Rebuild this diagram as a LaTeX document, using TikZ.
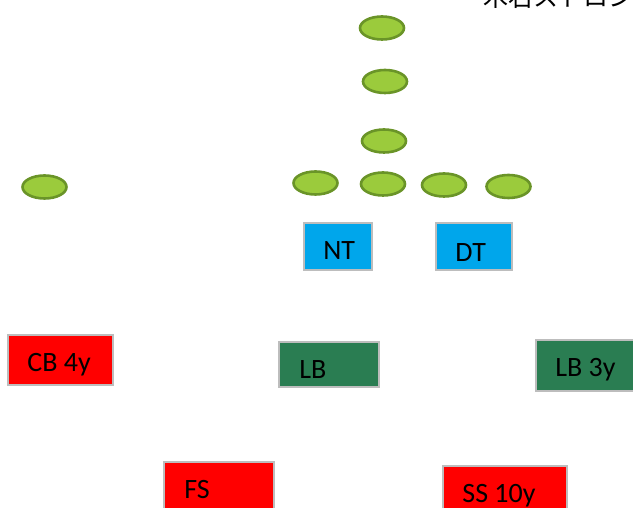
\documentclass[tikz,border=0pt]{standalone}
\usepackage{fontspec}
\setmainfont{Carlito}
\newfontfamily\cjk{Noto Sans CJK JP}
\usepackage{tikz}
\usetikzlibrary{positioning, calc, shapes.geometric}
\definecolor{olfill}{HTML}{9BCB3C}
\definecolor{oldraw}{HTML}{6A9428}
\definecolor{dlblue}{HTML}{00A6EB}
\definecolor{lbgreen}{HTML}{2A7D52}
\definecolor{dbred}{HTML}{FF0000}
\definecolor{edgegray}{HTML}{BDBDBD}
\tikzset{
  player/.style={
    ellipse,
    draw=oldraw,
    fill=olfill,
    line width=2.6pt,
    minimum width=44pt,
    minimum height=23pt,
    inner sep=0pt
  },
  posbox/.style={
    rectangle,
    draw=edgegray,
    line width=1.6pt,
    inner sep=0pt
  },
  postext/.style={
    font=\fontsize{28}{30}\selectfont,
    inner sep=0pt,
    anchor=base west
  }
}

\begin{document}
\begin{tikzpicture}[x=1pt, y=-1pt]
  \useasboundingbox (0,0) rectangle (633,508);
  \clip (0,0) rectangle (633,508);
  % offense
  \node[player] (c1) at (382,28) {};
  \node[player] (c2) at (385,81.5) {};
  \node[player] (c3) at (384,141) {};
  \node[player] (l1) at (315.5,183) {};
  \node[player] (l2) at (383,184) {};
  \node[player] (l3) at (444,185) {};
  \node[player] (l4) at (508.5,186.5) {};
  \node[player] (wr) at (44.5,187) {};
  % defense
  \node[posbox, fill=dlblue, minimum width=68pt, minimum height=47pt] (nt) at (338,246.5) {};
  \node[posbox, fill=dlblue, minimum width=76pt, minimum height=47pt] (dt) at (474,246.5) {};
  \node[posbox, fill=dbred, minimum width=105pt, minimum height=50pt] (cb) at (60.5,360) {};
  \node[posbox, fill=lbgreen, minimum width=100pt, minimum height=45pt] (lbm) at (329,364.5) {};
  \node[posbox, fill=lbgreen, minimum width=102pt, minimum height=51pt] (lbs) at (587,365.5) {};
  \node[posbox, fill=dbred, minimum width=110pt, minimum height=50pt] (fs) at (219,487) {};
  \node[posbox, fill=dbred, minimum width=124pt, minimum height=50pt] (ss) at (505,491) {};
  \node[postext] (ntT) at ([shift={(20,37)}]nt.north west) {NT};
  \node[postext] (dtT) at ([shift={(20,39)}]dt.north west) {DT};
  \node[postext] (cbT) at ([shift={(20,37)}]cb.north west) {CB 4y};
  \node[postext] (lbmT) at ([shift={(21,37)}]lbm.north west) {LB};
  \node[postext] (lbsT) at ([shift={(20,37)}]lbs.north west) {LB 3y};
  \node[postext] (fsT) at ([shift={(21,37)}]fs.north west) {FS};
  \node[postext] (ssT) at ([shift={(20,37)}]ss.north west) {SS 10y};
  % title, cut off at the top
  \node[font=\cjk\fontsize{25}{27}\selectfont, inner sep=0pt, anchor=base west] (title) at (483,7) {木右ストロング};
\end{tikzpicture}
\end{document}
